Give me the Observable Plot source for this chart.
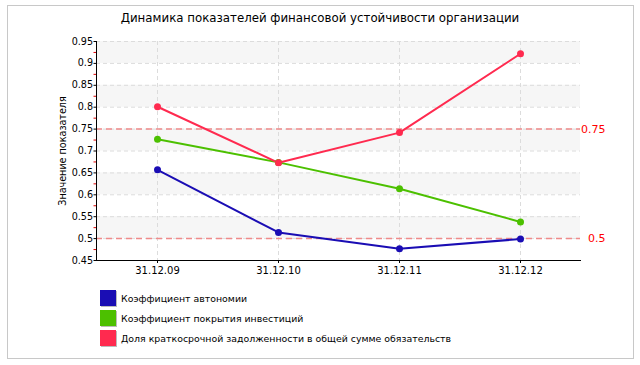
<!DOCTYPE html>
<html><head><meta charset="utf-8">
<script src="https://cdn.jsdelivr.net/npm/d3@7"></script>
<script src="https://cdn.jsdelivr.net/npm/@observablehq/plot@0.6"></script>
<style>
  body { margin:0; background:#fff; font-family:"DejaVu Sans", sans-serif; }
  #wrap { position:absolute; left:0; top:0; width:640px; height:365px; }
  #border { position:absolute; left:7px; top:5px; width:625px; height:352px; border:1px solid #c8c8c8; }
  #title { position:absolute; left:0; width:640px; top:11px; text-align:center; font-size:11.8px; color:#000; }
  #chart { position:absolute; left:0; top:30px; }
  #legend { position:absolute; left:100px; top:288px; font-size:9.4px; color:#000; }
  .item { height:20px; display:flex; align-items:center; }
  .sw { width:16px; height:16px; margin-right:5px; box-shadow:1px 1px 0 #bbb; }
</style></head>
<body><div id="wrap">
<div id="border"></div>
<div id="title"></div>
<div id="chart"></div>
<div id="legend"></div>
</div>
<script>
const titleText = "Динамика показателей финансовой устойчивости организации";
const yLabel = "Значение показателя";
const dates = ["31.12.09", "31.12.10", "31.12.11", "31.12.12"];
const seriesNames = [
  "Коэффициент автономии",
  "Коэффициент покрытия инвестиций",
  "Доля краткосрочной задолженности в общей сумме обязательств"
];
const seriesColors = ["#1a0db4", "#4cc000", "#ff2a4f"];
const autonomy = [0.657, 0.514, 0.477, 0.499];
const coverage = [0.727, 0.674, 0.614, 0.538];
const shortDebt = [0.801, 0.673, 0.742, 0.922];
const thresholds = [0.75, 0.5];
const yTicks = [0.45,0.5,0.55,0.6,0.65,0.7,0.75,0.8,0.85,0.9,0.95];
const yMinor = [0.475,0.525,0.575,0.625,0.675,0.725,0.775,0.825,0.875,0.925];
const bandStarts = [0.5,0.6,0.7,0.8,0.9];

document.getElementById("title").textContent = titleText;

const allSeries = [autonomy, coverage, shortDebt];
const data = [];
allSeries.forEach((vals, i) => vals.forEach((v, j) => data.push({series: seriesNames[i], date: dates[j], value: v})));

const plot = Plot.plot({
  width: 640, height: 250,
  marginLeft: 96, marginRight: 60, marginTop: 11, marginBottom: 20,
  style: {fontFamily: "DejaVu Sans, sans-serif", fontSize: "10px", color: "#000", background: "transparent"},
  x: {type: "point", domain: dates, padding: 0.5},
  y: {domain: [0.45, 0.95]},
  color: {domain: seriesNames, range: seriesColors},
  marks: [
    Plot.rect(bandStarts, {y1: d => d, y2: d => d + 0.05, fill: "#f6f6f6"}),
    Plot.gridY(yTicks, {stroke: "#dcdcdc", strokeOpacity: 1, strokeDasharray: "4,3"}),
    Plot.gridX(dates, {stroke: "#dcdcdc", strokeOpacity: 1, strokeDasharray: "4,3"}),
    Plot.ruleY(thresholds, {stroke: "#f08a8a", strokeWidth: 1.5, strokeDasharray: "6,4"}),
    Plot.text(thresholds, {y: d => d, text: d => String(d), frameAnchor: "right", textAnchor: "end", dx: 25, fill: "#ff0000", fontSize: 11}),
    Plot.line(data, {x: "date", y: "value", z: "series", stroke: "series", strokeWidth: 2}),
    Plot.dot(data, {x: "date", y: "value", fill: "series", r: 3.5}),
    Plot.axisY(yMinor, {tickSize: 2.5, stroke: "#e00000", tickFormat: () => "", label: null}),
    Plot.axisY(yTicks, {tickSize: 2.5, tickPadding: 1, tickFormat: d => String(+d.toFixed(2)), label: yLabel, labelAnchor: "center", labelArrow: "none", labelOffset: 37, fontSize: 9.6}),
    Plot.axisX(dates, {tickSize: 3, tickPadding: 3, label: null, fontSize: 10}),
    Plot.frame({anchor: "left", stroke: "#000"}),
    Plot.frame({anchor: "bottom", stroke: "#000"})
  ]
});
document.getElementById("chart").appendChild(plot);

const legend = document.getElementById("legend");
seriesNames.forEach((n, i) => {
  const it = document.createElement("div"); it.className = "item";
  const sw = document.createElement("div"); sw.className = "sw"; sw.style.background = seriesColors[i];
  const t = document.createElement("span"); t.textContent = n;
  it.appendChild(sw); it.appendChild(t); legend.appendChild(it);
});
</script>
</body></html>
